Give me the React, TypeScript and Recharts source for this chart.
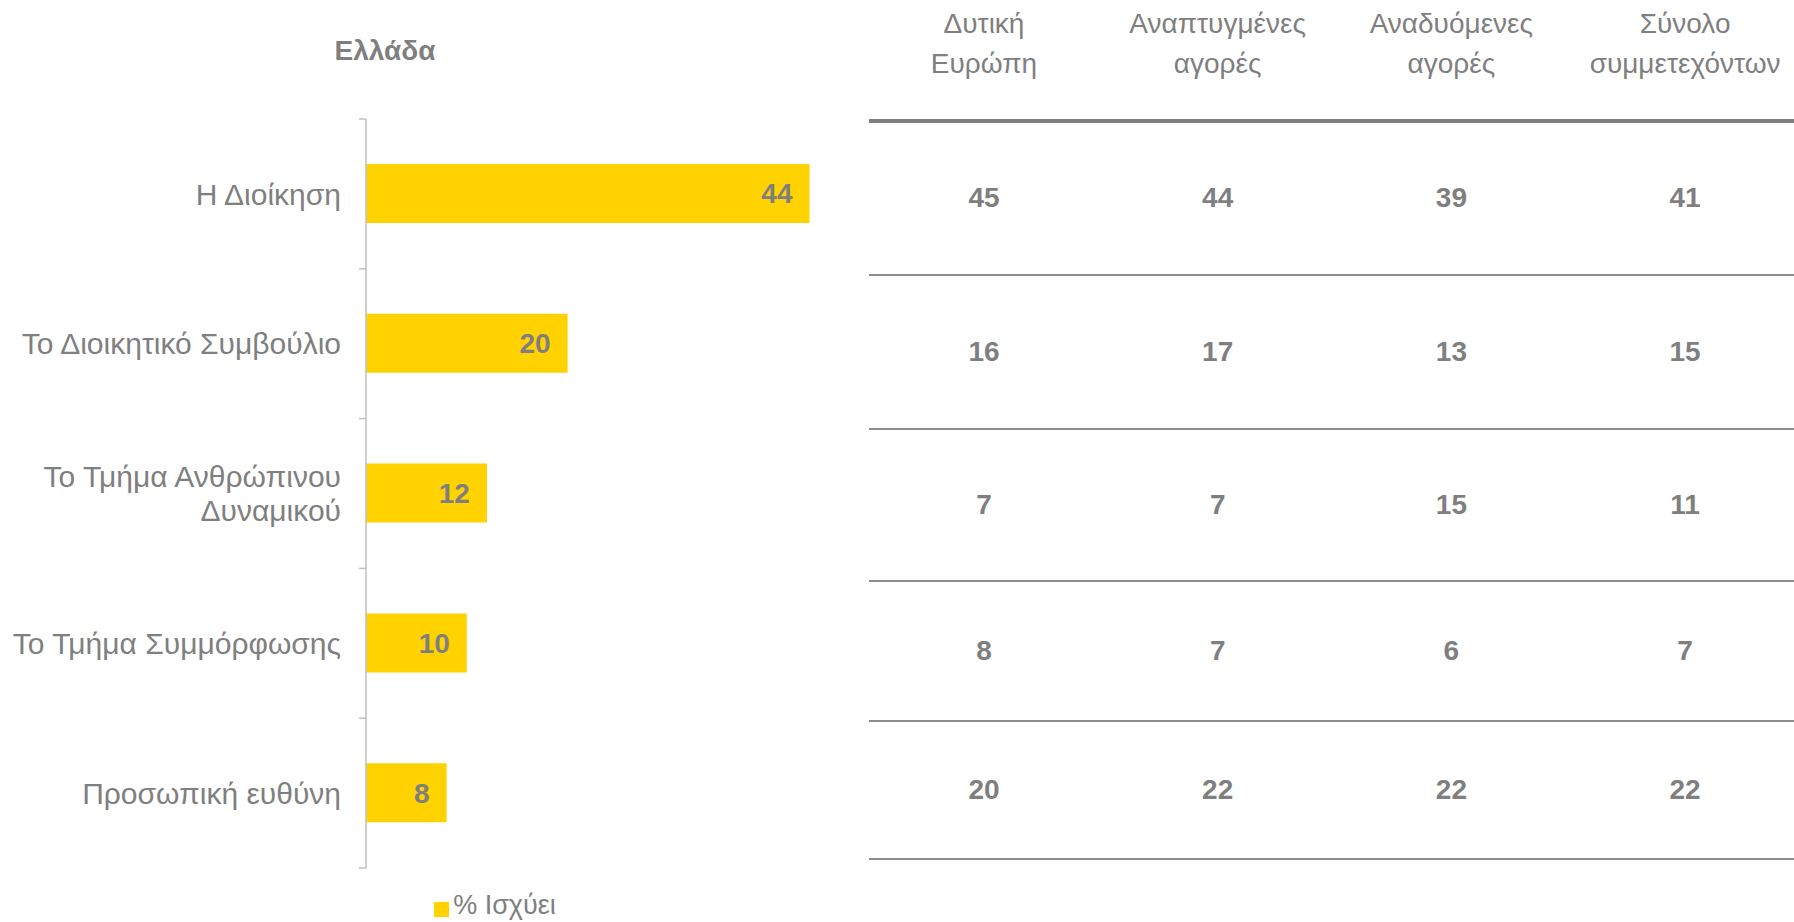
import { BarChart, Bar, XAxis, YAxis, LabelList, Legend } from "recharts";

const TITLE = "Ελλάδα";
const SERIES_NAME = "% Ισχύει";
const CATEGORIES = [
  "Η Διοίκηση",
  "Το Διοικητικό Συμβούλιο",
  "Το Τμήμα Ανθρώπινου\nΔυναμικού",
  "Το Τμήμα Συμμόρφωσης",
  "Προσωπική ευθύνη",
];
const GREECE = [44, 20, 12, 10, 8];

const REGION_HEADERS = [
  "Δυτική\nΕυρώπη",
  "Αναπτυγμένες\nαγορές",
  "Αναδυόμενες\nαγορές",
  "Σύνολο\nσυμμετεχόντων",
];
const WESTERN_EUROPE = [45, 16, 7, 8, 20];
const DEVELOPED_MARKETS = [44, 17, 7, 7, 22];
const EMERGING_MARKETS = [39, 13, 15, 6, 22];
const ALL_RESPONDENTS = [41, 15, 11, 7, 22];

const GRAY = "#7f7f7f";
const AXIS_GRAY = "#bfbfbf";
const YELLOW = "#ffd200";
const FONT = "'Liberation Sans', Arial, sans-serif";

// table layout
const TABLE_LEFT = 869;
const COL_FIRST = 984;
const COL_STEP = 233.7;
const ROW_LINES = [121, 275, 429, 581, 721, 859];
const LINE_WIDTHS = [4, 1.5, 1.5, 1.5, 2.5, 2.5];

const data = CATEGORIES.map((name, i) => ({ name, value: GREECE[i] }));
const tableColumns = [WESTERN_EUROPE, DEVELOPED_MARKETS, EMERGING_MARKETS, ALL_RESPONDENTS];

// the helper axis spans index 0..n-1 over the full height; band edges sit at k*(n-1)/n
const N = CATEGORIES.length;
const BOUNDARY_TICKS = Array.from({ length: N + 1 }, (_, k) => (k * (N - 1)) / N);

function CategoryTick(props: any) {
  const { x, y, payload } = props;
  const lines = String(payload.value).split("\n");
  const lh = 34;
  const start = -((lines.length - 1) * lh) / 2;
  return (
    <text x={x} y={y} textAnchor="end" fill={GRAY} fontSize={30} fontFamily={FONT}>
      {lines.map((l, i) => (
        <tspan key={i} x={x} y={y + start + i * lh} dy="0.355em">
          {l}
        </tspan>
      ))}
    </text>
  );
}

const NoLabel = () => <g />;

export default function App() {
  return (
    <div
      style={{
        position: "absolute",
        left: 0,
        top: 0,
        width: 1794,
        height: 922,
        overflow: "hidden",
        background: "#fff",
        fontFamily: FONT,
      }}
    >
      <div
        style={{
          position: "absolute",
          left: 285,
          width: 200,
          top: 34,
          textAlign: "center",
          fontSize: 28,
          fontWeight: "bold",
          color: GRAY,
          lineHeight: "34px",
        }}
      >
        {TITLE}
      </div>

      <div style={{ position: "absolute", left: 0, top: 0 }}>
        <BarChart
          width={870}
          height={922}
          data={data}
          layout="vertical"
          margin={{ top: 119, right: 0, bottom: 54, left: 0 }}
        >
          <XAxis type="number" domain={[0, 50]} hide />
          <YAxis
            yAxisId="axis"
            type="number"
            domain={[0, N - 1]}
            ticks={BOUNDARY_TICKS}
            allowDataOverflow
            tick={<NoLabel />}
            tickSize={7}
            width={1}
            interval={0}
            axisLine={{ stroke: AXIS_GRAY, strokeWidth: 1.5 }}
            tickLine={{ stroke: AXIS_GRAY, strokeWidth: 1.5 }}
          />
          <YAxis
            yAxisId="cat"
            type="category"
            dataKey="name"
            width={365}
            tickSize={0}
            tickMargin={24}
            axisLine={false}
            tickLine={false}
            tick={<CategoryTick />}
            interval={0}
          />
          <Bar
            yAxisId="cat"
            dataKey="value"
            name={SERIES_NAME}
            fill={YELLOW}
            barSize={59}
            isAnimationActive={false}
          >
            <LabelList
              dataKey="value"
              position="insideRight"
              offset={17}
              fill={GRAY}
              fontWeight="bold"
              fontSize={28}
              fontFamily={FONT}
            />
          </Bar>
          <Legend
            layout="horizontal"
            verticalAlign="middle"
            align="center"
            iconType="square"
            iconSize={15}
            formatter={(v) => <span style={{ color: GRAY, fontSize: 27 }}>{v}</span>}
            wrapperStyle={{ left: 390, top: 890, width: 220, textAlign: "left", fontFamily: FONT }}
          />
        </BarChart>
      </div>

      {REGION_HEADERS.map((h, c) => (
        <div
          key={h}
          style={{
            position: "absolute",
            left: COL_FIRST + c * COL_STEP - 130,
            width: 260,
            top: 4,
            textAlign: "center",
            whiteSpace: "pre-line",
            fontSize: 28,
            lineHeight: "39.5px",
            color: GRAY,
          }}
        >
          {h}
        </div>
      ))}

      {ROW_LINES.map((y, i) => (
        <div
          key={"l" + i}
          style={{
            position: "absolute",
            left: TABLE_LEFT,
            width: 1794 - TABLE_LEFT,
            top: y - LINE_WIDTHS[i] / 2,
            height: LINE_WIDTHS[i],
            background: i === 0 ? GRAY : "#8c8c8c",
          }}
        />
      ))}

      {tableColumns.map((col, c) =>
        col.map((v, r) => (
          <div
            key={c + "-" + r}
            style={{
              position: "absolute",
              left: COL_FIRST + c * COL_STEP - 60,
              width: 120,
              top: ROW_LINES[r],
              height: ROW_LINES[r + 1] - ROW_LINES[r],
              display: "flex",
              alignItems: "center",
              justifyContent: "center",
              fontSize: 28,
              fontWeight: "bold",
              color: GRAY,
            }}
          >
            {v}
          </div>
        ))
      )}
    </div>
  );
}
